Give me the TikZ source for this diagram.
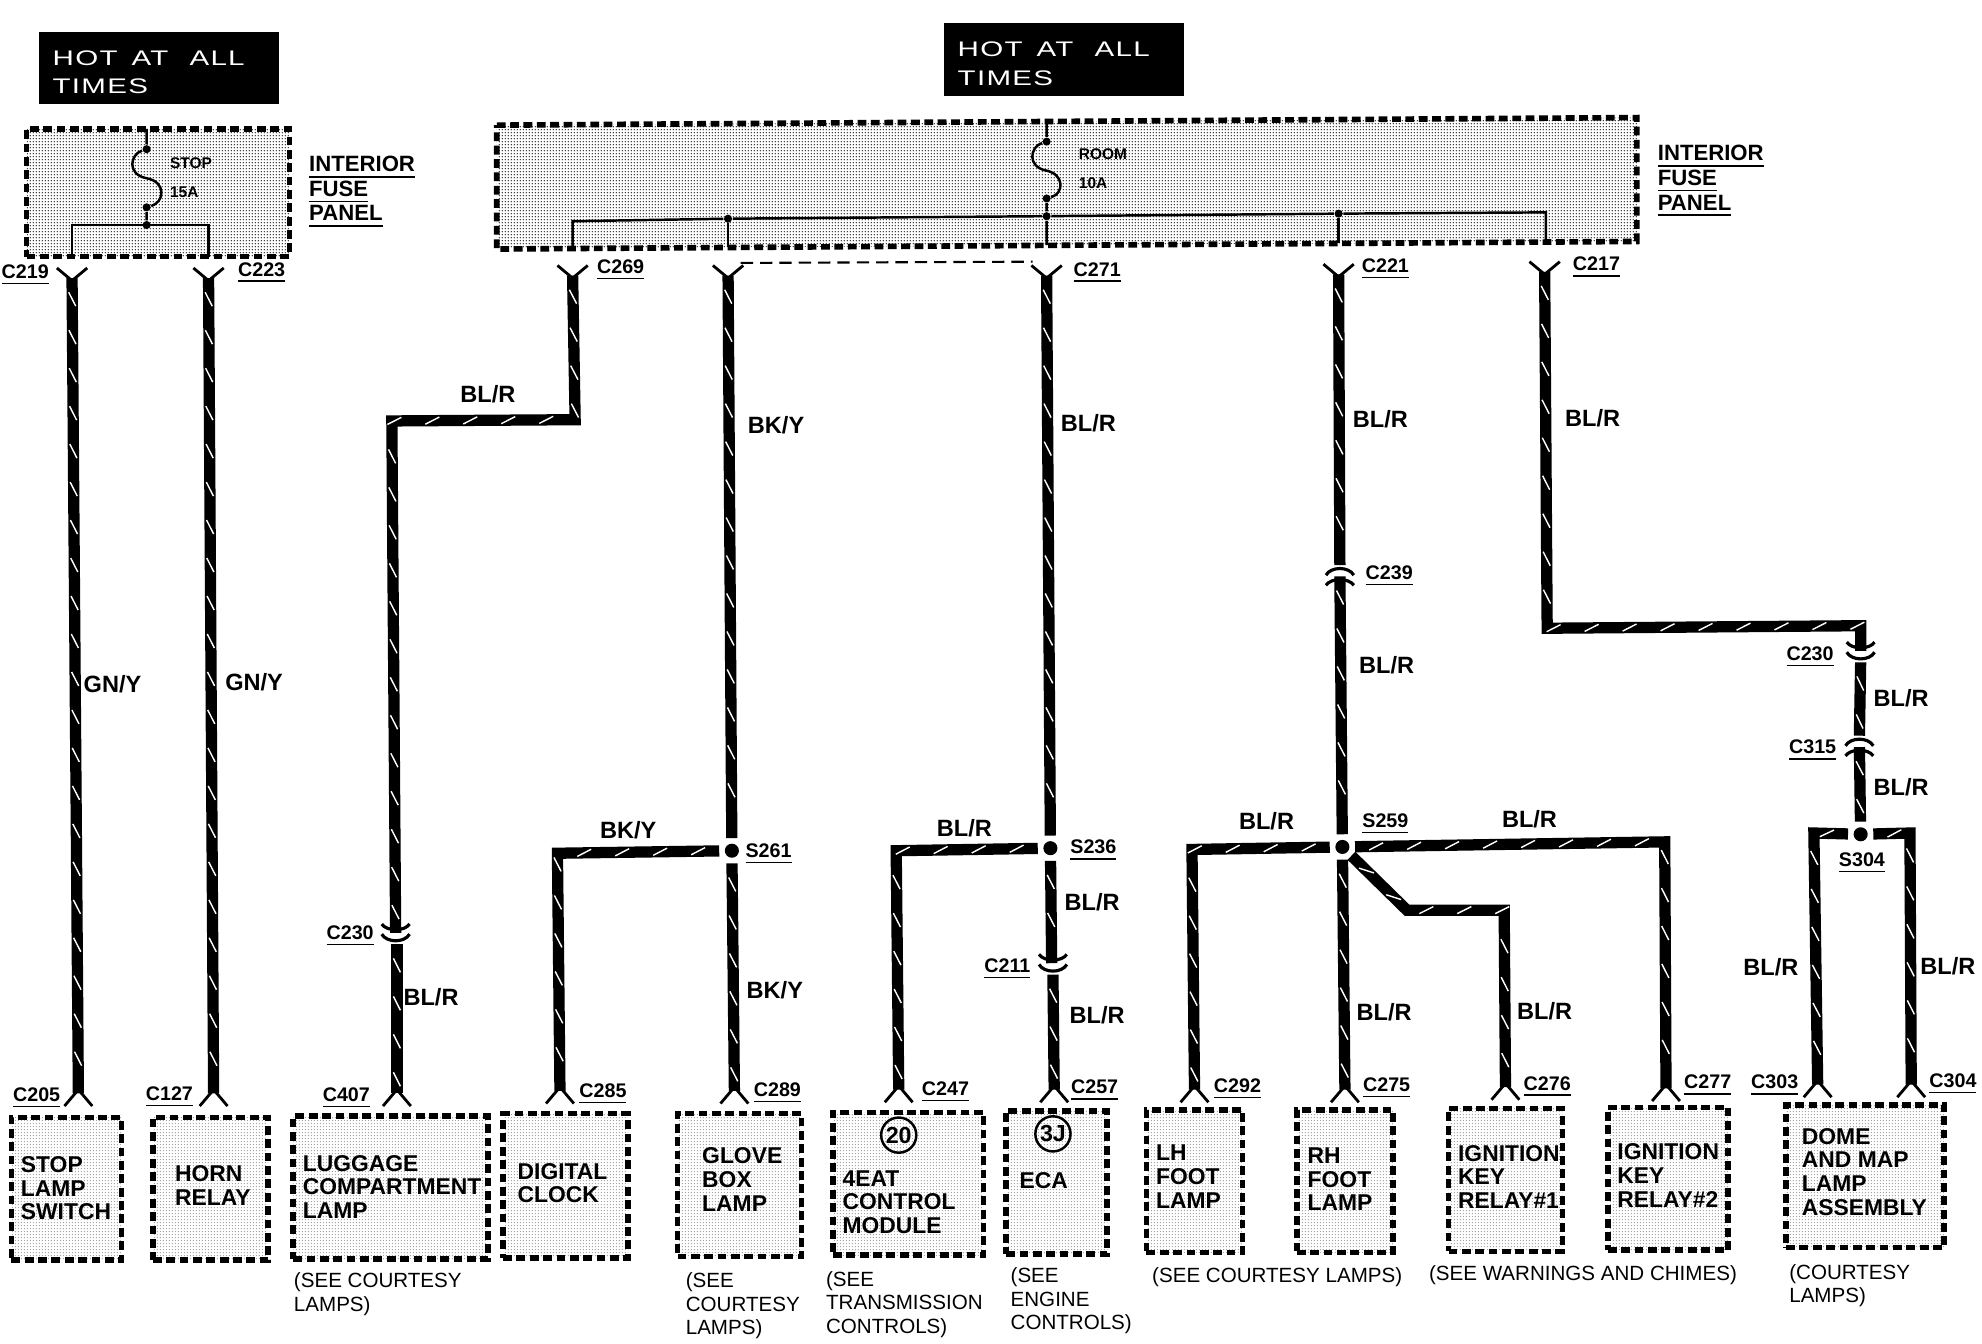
\documentclass[tikz,border=0pt]{standalone}
\usepackage{fontspec}
\setmainfont{Liberation Sans}
\newfontfamily\hotfont{Liberation Sans}[FakeStretch=1.4,LetterSpace=6]
\usetikzlibrary{decorations.markings, fit, patterns.meta}
\tikzset{
x=0.01264cm, y=-0.01264cm, % one unit is a pixel of the 1568 wide view
wire/.style={line width=3.2pt, postaction={decorate}, decoration={markings,
  mark=between positions 6pt and -3pt step 10.8pt with {\draw[white, line width=0.4pt] (-0.07cm,-0.035cm) -- (0.07cm,0.035cm);}}},
thinwire/.style={line width=0.7pt},
panel/.style={draw, line width=1.6pt, dash pattern=on 2.5pt off 1.3pt, pattern={Dots[radius=0.22pt,distance=0.9pt]}},
fusebox/.style={panel, inner sep=0pt, rectangle, fit={#1}},
unitbox/.style={draw, line width=1.6pt, dash pattern=on 2.5pt off 1.3pt, pattern={Dots[radius=0.16pt,distance=0.9pt]}, inner sep=0pt, rectangle, fit={#1}},
spot/.style={circle, fill=black, inner sep=0pt, minimum size=4pt, outer sep=1.6pt},
tinyspot/.style={circle, fill=black, inner sep=0pt, minimum size=2.3pt},
hotbox/.style={fill=black, text=white, anchor=north west, align=left, inner xsep=4pt, inner ysep=0pt,
  font=\hotfont\fontsize{6pt}{8pt}\selectfont, minimum height=20.5pt, text width=60.4pt},
conn/.style={inner sep=0pt, yshift=-1pt, font=\bfseries\fontsize{5.6pt}{6pt}\selectfont},
wirelabel/.style={inner sep=0pt, font=\bfseries\fontsize{6.7pt}{7pt}\selectfont},
unittext/.style={anchor=west, align=left, inner sep=0pt, font=\bfseries\fontsize{6.5pt}{6.75pt}\selectfont},
panelname/.style={anchor=north west, align=left, inner sep=0pt, font=\bfseries\fontsize{6.3pt}{7pt}\selectfont},
caption/.style={anchor=west, align=left, inner sep=0pt, font=\fontsize{5.85pt}{6.7pt}\selectfont},
fuselabel/.style={anchor=west, inner sep=0pt, font=\bfseries\fontsize{4.4pt}{5pt}\selectfont},
badge/.style={circle, draw, line width=0.7pt, inner sep=0pt, minimum size=10pt, font=\bfseries\fontsize{6.6pt}{7pt}\selectfont},
forktop/.pic={\draw[line width=0.8pt] (-12,-8) -- (0,2) -- (12,-8);},
forkbot/.pic={\draw[line width=0.8pt] (-11,10) -- (0,-3) -- (11,10);},
plugdn/.pic={\draw[line width=0.9pt] (-11,-10) .. controls (-7,-4) and (7,-4) .. (11,-10) (-11,-2) .. controls (-7,5) and (7,5) .. (11,-2);},
plugup/.pic={\draw[line width=0.9pt] (-11,10) .. controls (-7,4) and (7,4) .. (11,10) (-11,2) .. controls (-7,-5) and (7,-5) .. (11,2);},
}

\begin{document}
\begin{tikzpicture}
    \useasboundingbox (0,0) rectangle (1568,1063);

    % black headers
    \node[hotbox] (hotA) at (30,25) {\rule{0pt}{6.6pt}\mbox{HOT\hspace{4pt}AT\hspace{6pt}ALL}\\TIMES};
    \node[hotbox] (hotB) at (746,18) {\rule{0pt}{6.6pt}\mbox{HOT\hspace{4pt}AT\hspace{6pt}ALL}\\TIMES};

    % fuse panels
    \node[fusebox={(21,102) (229,203)}] (fuseA) {};
    \draw[panel] (393,99) -- (1295,93) -- (1295,191) -- (393,197) -- cycle;
    \node[panelname] (nameA) at (244,123) {\underline{INTERIOR}\\\underline{FUSE}\\\underline{PANEL}};
    \node[panelname] (nameB) at (1311,114.5) {\underline{INTERIOR}\\\underline{FUSE}\\\underline{PANEL}};

    % fuse links
    \node[tinyspot] (a1) at (116,118) {};
    \node[tinyspot] (a2) at (116,164) {};
    \node[tinyspot] (a3) at (116,178) {};
    \coordinate (a0) at (116,102);
    \coordinate (a4) at (57,178);
    \coordinate (a5) at (57,203);
    \coordinate (a6) at (165,178);
    \coordinate (a7) at (165,203);
    \draw[thinwire] (a0) -- (a1) .. controls (103,122) and (100,138) .. (116,141) .. controls (132,144) and (130,160) .. (a2) -- (a3);
    \draw[thinwire] (a5) -- (a4) -- (a6) -- (a7);
    \node[fuselabel] (stop) at (134,129) {STOP};
    \node[fuselabel] (amp15) at (134,152) {15A};

    \node[tinyspot] (b1) at (828,112) {};
    \node[tinyspot] (b2) at (828,157) {};
    \node[tinyspot] (b3) at (828,171) {};
    \node[tinyspot] (b4) at (576,173) {};
    \node[tinyspot] (b5) at (1059,169) {};
    \coordinate (b0) at (828,97);
    \coordinate (b6) at (453,175);
    \coordinate (b7) at (453,196);
    \coordinate (b8) at (576,195);
    \coordinate (b9) at (828,194);
    \coordinate (b10) at (1059,192);
    \coordinate (b11) at (1223,168);
    \coordinate (b12) at (1223,191);
    \draw[thinwire] (b0) -- (b1) .. controls (815,116) and (812,132) .. (828,135) .. controls (842,138) and (842,153) .. (b2) -- (b3) -- (b9);
    \draw[thinwire] (b7) -- (b6) -- (b4) -- (b3) -- (b5) -- (b11) -- (b12);
    \draw[thinwire] (b4) -- (b8);
    \draw[thinwire] (b5) -- (b10);
    \node[fuselabel] (room) at (853,122) {ROOM};
    \node[fuselabel] (amp10) at (853,145) {10A};

    % connector ends
    \foreach \n/\x/\y in {t219/57/220, t223/165/220, t269/453/218, t261/576/218, t271/828/218, t221/1059/217, t217/1222/215} {
      \coordinate (\n) at (\x,\y);
      \pic at (\n) {forktop};
    }
    \foreach \n/\x/\y in {b205/62/865, b127/169/865, b407/314/865, b285/443/863, b289/581/863, b247/711/862, b257/834/862,
      b292/945/862, b275/1064/862, b276/1191/860, b277/1318/861, b303/1438/858, b304/1512/858} {
      \coordinate (\n) at (\x,\y);
      \pic at (\n) {forkbot};
    }
    \coordinate (dashL) at (586,208);
    \coordinate (dashR) at (817,207);
    \draw[line width=0.6pt, dash pattern=on 3.5pt off 2pt] (dashL) -- (dashR);

    % inline connectors
    \coordinate (p230) at (313,741);
    \coordinate (p211) at (833,765);
    \coordinate (p239) at (1060,453);
    \coordinate (p230r) at (1472,518);
    \coordinate (p315) at (1471,588);
    \pic at (p230) {plugdn};
    \pic at (p211) {plugdn};
    \pic at (p239) {plugup};
    \pic at (p230r) {plugdn};
    \pic at (p315) {plugup};
    \foreach \n/\x/\y in {u230/313/738, d230/314/747, u211/832/762, d211/833/771, u239/1060/447, d239/1060/456,
      u230r/1472/515, d230r/1472/524, u315/1471/582, d315/1471/591} {
      \coordinate (\n) at (\x,\y);
    }

    % splices
    \node[spot] (s261) at (579,673) {};
    \node[spot] (s236) at (831,671) {};
    \node[spot] (s259) at (1062,670) {};
    \node[spot] (s304) at (1472,660) {};

    % bends
    \foreach \n/\x/\y in {j1/455/332, j2/310/333, j3/441/675, j4/709/673, j5/943/672, j6/1317/666, j7/1113/720, j8/1190/720,
      j9/1224/497, j10/1472/495, j11/1435/659, j12/1511/659} {
      \coordinate (\n) at (\x,\y);
    }

    % wires
    \draw[wire] (t219) -- (b205);
    \draw[wire] (t223) -- (b127);
    \draw[wire] (t269) -- (j1) -- (j2) -- (u230);
    \draw[wire] (d230) -- (b407);
    \draw[wire] (t261) -- (s261);
    \draw[wire] (s261) -- (b289);
    \draw[wire] (s261) -- (j3) -- (b285);
    \draw[wire] (t271) -- (s236);
    \draw[wire] (s236) -- (u211);
    \draw[wire] (d211) -- (b257);
    \draw[wire] (s236) -- (j4) -- (b247);
    \draw[wire] (t221) -- (u239);
    \draw[wire] (d239) -- (s259);
    \draw[wire] (s259) -- (b275);
    \draw[wire] (s259) -- (j5) -- (b292);
    \draw[wire] (s259) -- (j6) -- (b277);
    \draw[wire] (s259) -- (j7) -- (j8) -- (b276);
    \draw[wire] (t217) -- (j9) -- (j10) -- (u230r);
    \draw[wire] (d230r) -- (u315);
    \draw[wire] (d315) -- (s304);
    \draw[wire] (s304) -- (j11) -- (b303);
    \draw[wire] (s304) -- (j12) -- (b304);

    % connector and splice names
    \foreach \x/\y/\t [count=\i] in {20/215/C219, 207/213/C223, 491/211/C269, 868/213/C271, 1096/210/C221, 1263/209/C217,
      1099/453/C239, 1432/517/C230, 1434/591/C315, 1096/649/S259, 1473/680/S304, 608/673/S261, 865/670/S236,
      277/738/C230, 797/764/C211, 29/866/C205, 134/865/C127, 274/866/C407, 477/863/C285, 615/862/C289,
      748/861/C247, 866/860/C257, 979/859/C292, 1097/858/C275, 1224/857/C276, 1351/856/C277, 1404/856/C303, 1545/855/C304} {
      \node[conn] (name\i) at (\x,\y) {\underline{\t}};
    }

    % wire colours
    \foreach \x/\y/\t [count=\i] in {89/541/{GN/Y}, 201/540/{GN/Y}, 386/312/{BL/R}, 614/336/{BK/Y}, 861/335/{BL/R}, 1092/332/{BL/R},
      1260/331/{BL/R}, 1097/526/{BL/R}, 1504/552/{BL/R}, 1504/623/{BL/R}, 341/789/{BL/R}, 497/657/{BK/Y}, 613/783/{BK/Y},
      763/655/{BL/R}, 864/714/{BL/R}, 868/803/{BL/R}, 1002/650/{BL/R}, 1210/648/{BL/R}, 1095/801/{BL/R}, 1222/800/{BL/R},
      1401/765/{BL/R}, 1541/764/{BL/R}} {
      \node[wirelabel] (col\i) at (\x,\y) {\t};
    }

    % units
    \node[unitbox={(9,884) (96,997)}] (stopbox) {};
    \node[unitbox={(121,884) (212,997)}] (hornbox) {};
    \node[unitbox={(232,883) (386,996)}] (luggbox) {};
    \node[unitbox={(398,881) (497,995)}] (clockbox) {};
    \node[unitbox={(536,881) (634,994)}] (glovebox) {};
    \node[unitbox={(659,880) (778,993)}] (eatbox) {};
    \node[unitbox={(796,879) (876,992)}] (ecabox) {};
    \node[unitbox={(907,878) (983,991)}] (lhbox) {};
    \node[unitbox={(1026,878) (1102,991)}] (rhbox) {};
    \node[unitbox={(1146,877) (1236,990)}] (keyAbox) {};
    \node[unitbox={(1272,876) (1367,989)}] (keyBbox) {};
    \node[unitbox={(1413,874) (1538,987)}] (domebox) {};

    \node[unittext] (stoptxt) at (16,940) {STOP\\LAMP\\SWITCH};
    \node[unittext] (horntxt) at (138,938) {HORN\\RELAY};
    \node[unittext] (luggtxt) at (239,939) {LUGGAGE\\COMPARTMENT\\LAMP};
    \node[unittext] (clocktxt) at (409,936) {DIGITAL\\CLOCK};
    \node[unittext] (glovetxt) at (555,933) {GLOVE\\BOX\\LAMP};
    \node[unittext] (eattxt) at (666,951) {4EAT\\CONTROL\\MODULE};
    \node[unittext] (ecatxt) at (806,934) {ECA};
    \node[unittext] (lhtxt) at (914,931) {LH\\FOOT\\LAMP};
    \node[unittext] (rhtxt) at (1034,933) {RH\\FOOT\\LAMP};
    \node[unittext] (keyAtxt) at (1153,931) {IGNITION\\KEY\\RELAY\#1};
    \node[unittext] (keyBtxt) at (1279,930) {IGNITION\\KEY\\RELAY\#2};
    \node[unittext] (dometxt) at (1425,927) {DOME\\AND MAP\\LAMP\\ASSEMBLY};

    \node[badge] (badge20) at (711,898) {20};
    \node[badge] (badge3J) at (833,897) {3J};

    % notes under the units
    \node[caption] (noteA) at (232,1024) {(SEE COURTESY\\LAMPS)};
    \node[caption] (noteB) at (542,1033) {(SEE\\COURTESY\\LAMPS)};
    \node[caption] (noteC) at (653,1032) {(SEE\\TRANSMISSION\\CONTROLS)};
    \node[caption] (noteD) at (799,1029) {(SEE\\ENGINE\\CONTROLS)};
    \node[caption] (noteE) at (911,1010) {(SEE COURTESY LAMPS)};
    \node[caption] (noteF) at (1130,1009) {(SEE WARNINGS AND CHIMES)};
    \node[caption] (noteG) at (1415,1017) {(COURTESY\\LAMPS)};
\end{tikzpicture}
\end{document}
